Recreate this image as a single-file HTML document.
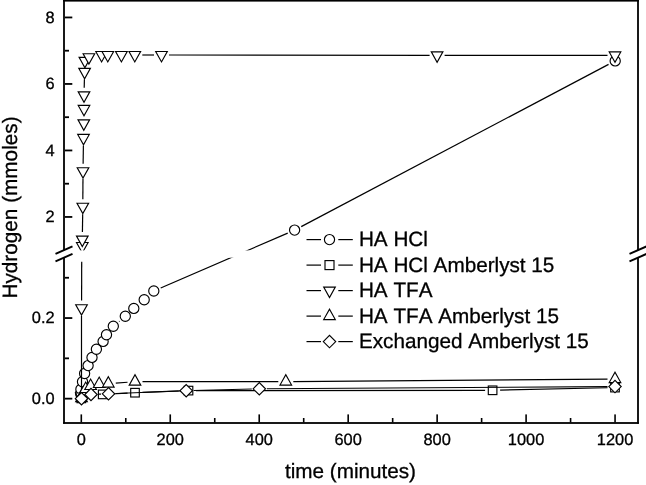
<!DOCTYPE html>
<html><head><meta charset="utf-8"><title>Hydrogen vs time</title>
<style>
html,body{margin:0;padding:0;background:#fff;}
body{width:646px;height:485px;overflow:hidden;}
svg{display:block;font-family:"Liberation Sans",Arial,Helvetica,sans-serif;fill:#000;stroke:#000;stroke-width:0;font-kerning:none;text-rendering:geometricPrecision;}
text{stroke:#000;stroke-width:0.3px;}
</style></head><body>
<svg width="646" height="485" viewBox="0 0 646 485">
<rect x="0" y="0" width="646" height="485" fill="#fff"/>
<g>
<line x1="119.06" y1="321.50" x2="119.54" y2="321.10" stroke="#000" stroke-width="1.2" />
<line x1="160.68" y1="288.02" x2="287.72" y2="233.08" stroke="#000" stroke-width="1.2" />
<line x1="301.23" y1="226.60" x2="608.57" y2="64.40" stroke="#000" stroke-width="1.2" />
<circle cx="80.60" cy="393.50" r="5.1" fill="#fff" stroke="#000" stroke-width="1.15"/>
<circle cx="80.90" cy="389.20" r="5.1" fill="#fff" stroke="#000" stroke-width="1.15"/>
<circle cx="82.50" cy="381.70" r="5.1" fill="#fff" stroke="#000" stroke-width="1.15"/>
<circle cx="84.60" cy="373.50" r="5.1" fill="#fff" stroke="#000" stroke-width="1.15"/>
<circle cx="88.10" cy="365.60" r="5.1" fill="#fff" stroke="#000" stroke-width="1.15"/>
<circle cx="92.00" cy="357.40" r="5.1" fill="#fff" stroke="#000" stroke-width="1.15"/>
<circle cx="96.40" cy="349.30" r="5.1" fill="#fff" stroke="#000" stroke-width="1.15"/>
<circle cx="103.10" cy="341.40" r="5.1" fill="#fff" stroke="#000" stroke-width="1.15"/>
<circle cx="106.50" cy="334.70" r="5.1" fill="#fff" stroke="#000" stroke-width="1.15"/>
<circle cx="113.30" cy="326.30" r="5.1" fill="#fff" stroke="#000" stroke-width="1.15"/>
<circle cx="125.30" cy="316.30" r="5.1" fill="#fff" stroke="#000" stroke-width="1.15"/>
<circle cx="133.80" cy="308.40" r="5.1" fill="#fff" stroke="#000" stroke-width="1.15"/>
<circle cx="144.20" cy="299.80" r="5.1" fill="#fff" stroke="#000" stroke-width="1.15"/>
<circle cx="153.80" cy="291.00" r="5.1" fill="#fff" stroke="#000" stroke-width="1.15"/>
<circle cx="294.60" cy="230.10" r="5.1" fill="#fff" stroke="#000" stroke-width="1.15"/>
<circle cx="615.20" cy="60.90" r="5.1" fill="#fff" stroke="#000" stroke-width="1.15"/>
<line x1="88.67" y1="397.02" x2="95.33" y2="395.78" stroke="#000" stroke-width="1.2" />
<line x1="110.19" y1="394.01" x2="127.51" y2="393.09" stroke="#000" stroke-width="1.2" />
<line x1="142.49" y1="392.41" x2="181.01" y2="390.89" stroke="#000" stroke-width="1.2" />
<line x1="196.00" y1="390.59" x2="485.10" y2="390.31" stroke="#000" stroke-width="1.2" />
<line x1="500.10" y1="390.13" x2="607.50" y2="387.77" stroke="#000" stroke-width="1.2" />
<rect x="77.00" y="394.10" width="8.6" height="8.6" fill="#fff" stroke="#000" stroke-width="1.15"/>
<rect x="98.40" y="390.10" width="8.6" height="8.6" fill="#fff" stroke="#000" stroke-width="1.15"/>
<rect x="130.70" y="388.40" width="8.6" height="8.6" fill="#fff" stroke="#000" stroke-width="1.15"/>
<rect x="184.20" y="386.30" width="8.6" height="8.6" fill="#fff" stroke="#000" stroke-width="1.15"/>
<rect x="488.30" y="386.00" width="8.6" height="8.6" fill="#fff" stroke="#000" stroke-width="1.15"/>
<rect x="610.70" y="383.30" width="8.6" height="8.6" fill="#fff" stroke="#000" stroke-width="1.15"/>
<line x1="82.41" y1="232.10" x2="82.69" y2="214.20" stroke="#000" stroke-width="1.2" />
<line x1="82.84" y1="199.20" x2="82.96" y2="178.70" stroke="#000" stroke-width="1.2" />
<line x1="83.11" y1="163.70" x2="83.39" y2="145.40" stroke="#000" stroke-width="1.2" />
<line x1="84.19" y1="87.80" x2="84.41" y2="79.30" stroke="#000" stroke-width="1.2" />
<line x1="142.30" y1="55.00" x2="154.00" y2="55.00" stroke="#000" stroke-width="1.2" />
<line x1="169.00" y1="55.01" x2="429.60" y2="55.29" stroke="#000" stroke-width="1.2" />
<line x1="444.60" y1="55.30" x2="607.50" y2="55.40" stroke="#000" stroke-width="1.2" />
<line x1="81.70" y1="261.70" x2="81.60" y2="300.60" stroke="#000" stroke-width="1.2" />
<line x1="81.50" y1="315.80" x2="81.50" y2="390.50" stroke="#000" stroke-width="1.2" />
<path d="M75.50 393.03H87.10L81.30 403.43Z" fill="#fff" stroke="#000" stroke-width="1.15" stroke-linejoin="miter"/>
<path d="M75.70 304.73H87.30L81.50 315.13Z" fill="#fff" stroke="#000" stroke-width="1.15" stroke-linejoin="miter"/>
<path d="M76.50 242.53H88.10L82.30 252.93Z" fill="#fff" stroke="#000" stroke-width="1.15" stroke-linejoin="miter"/>
<path d="M76.50 236.13H88.10L82.30 246.53Z" fill="#fff" stroke="#000" stroke-width="1.15" stroke-linejoin="miter"/>
<path d="M77.00 203.23H88.60L82.80 213.63Z" fill="#fff" stroke="#000" stroke-width="1.15" stroke-linejoin="miter"/>
<path d="M77.20 167.73H88.80L83.00 178.13Z" fill="#fff" stroke="#000" stroke-width="1.15" stroke-linejoin="miter"/>
<path d="M77.70 134.43H89.30L83.50 144.83Z" fill="#fff" stroke="#000" stroke-width="1.15" stroke-linejoin="miter"/>
<path d="M78.00 119.83H89.60L83.80 130.23Z" fill="#fff" stroke="#000" stroke-width="1.15" stroke-linejoin="miter"/>
<path d="M78.20 105.43H89.80L84.00 115.83Z" fill="#fff" stroke="#000" stroke-width="1.15" stroke-linejoin="miter"/>
<path d="M78.20 91.83H89.80L84.00 102.23Z" fill="#fff" stroke="#000" stroke-width="1.15" stroke-linejoin="miter"/>
<path d="M78.80 68.33H90.40L84.60 78.73Z" fill="#fff" stroke="#000" stroke-width="1.15" stroke-linejoin="miter"/>
<path d="M79.10 57.33H90.70L84.90 67.73Z" fill="#fff" stroke="#000" stroke-width="1.15" stroke-linejoin="miter"/>
<path d="M83.10 53.73H94.70L88.90 64.13Z" fill="#fff" stroke="#000" stroke-width="1.15" stroke-linejoin="miter"/>
<path d="M95.80 51.53H107.40L101.60 61.93Z" fill="#fff" stroke="#000" stroke-width="1.15" stroke-linejoin="miter"/>
<path d="M102.00 51.53H113.60L107.80 61.93Z" fill="#fff" stroke="#000" stroke-width="1.15" stroke-linejoin="miter"/>
<path d="M115.60 51.53H127.20L121.40 61.93Z" fill="#fff" stroke="#000" stroke-width="1.15" stroke-linejoin="miter"/>
<path d="M129.00 51.53H140.60L134.80 61.93Z" fill="#fff" stroke="#000" stroke-width="1.15" stroke-linejoin="miter"/>
<path d="M155.70 51.53H167.30L161.50 61.93Z" fill="#fff" stroke="#000" stroke-width="1.15" stroke-linejoin="miter"/>
<path d="M431.30 51.83H442.90L437.10 62.23Z" fill="#fff" stroke="#000" stroke-width="1.15" stroke-linejoin="miter"/>
<path d="M609.20 51.93H620.80L615.00 62.33Z" fill="#fff" stroke="#000" stroke-width="1.15" stroke-linejoin="miter"/>
<line x1="115.78" y1="383.07" x2="127.52" y2="382.23" stroke="#000" stroke-width="1.2" />
<line x1="142.50" y1="381.70" x2="278.30" y2="381.60" stroke="#000" stroke-width="1.2" />
<line x1="293.30" y1="381.54" x2="607.50" y2="379.16" stroke="#000" stroke-width="1.2" />
<path d="M75.70 401.67H87.30L81.50 391.27Z" fill="#fff" stroke="#000" stroke-width="1.15" stroke-linejoin="miter"/>
<path d="M77.70 396.47H89.30L83.50 386.07Z" fill="#fff" stroke="#000" stroke-width="1.15" stroke-linejoin="miter"/>
<path d="M79.90 392.47H91.50L85.70 382.07Z" fill="#fff" stroke="#000" stroke-width="1.15" stroke-linejoin="miter"/>
<path d="M84.80 389.47H96.40L90.60 379.07Z" fill="#fff" stroke="#000" stroke-width="1.15" stroke-linejoin="miter"/>
<path d="M93.40 387.47H105.00L99.20 377.07Z" fill="#fff" stroke="#000" stroke-width="1.15" stroke-linejoin="miter"/>
<path d="M102.50 387.07H114.10L108.30 376.67Z" fill="#fff" stroke="#000" stroke-width="1.15" stroke-linejoin="miter"/>
<path d="M129.20 385.17H140.80L135.00 374.77Z" fill="#fff" stroke="#000" stroke-width="1.15" stroke-linejoin="miter"/>
<path d="M280.00 385.07H291.60L285.80 374.67Z" fill="#fff" stroke="#000" stroke-width="1.15" stroke-linejoin="miter"/>
<path d="M609.20 382.57H620.80L615.00 372.17Z" fill="#fff" stroke="#000" stroke-width="1.15" stroke-linejoin="miter"/>
<line x1="98.49" y1="394.20" x2="101.01" y2="394.10" stroke="#000" stroke-width="1.2" />
<line x1="115.99" y1="393.50" x2="178.71" y2="391.00" stroke="#000" stroke-width="1.2" />
<line x1="193.70" y1="390.51" x2="251.80" y2="388.99" stroke="#000" stroke-width="1.2" />
<line x1="266.80" y1="388.75" x2="607.50" y2="386.65" stroke="#000" stroke-width="1.2" />
<path d="M75.30 398.70L81.50 392.50L87.70 398.70L81.50 404.90Z" fill="#fff" stroke="#000" stroke-width="1.15" stroke-linejoin="miter"/>
<path d="M84.80 394.50L91.00 388.30L97.20 394.50L91.00 400.70Z" fill="#fff" stroke="#000" stroke-width="1.15" stroke-linejoin="miter"/>
<path d="M102.30 393.80L108.50 387.60L114.70 393.80L108.50 400.00Z" fill="#fff" stroke="#000" stroke-width="1.15" stroke-linejoin="miter"/>
<path d="M180.00 390.70L186.20 384.50L192.40 390.70L186.20 396.90Z" fill="#fff" stroke="#000" stroke-width="1.15" stroke-linejoin="miter"/>
<path d="M253.10 388.80L259.30 382.60L265.50 388.80L259.30 395.00Z" fill="#fff" stroke="#000" stroke-width="1.15" stroke-linejoin="miter"/>
<path d="M608.80 386.60L615.00 380.40L621.20 386.60L615.00 392.80Z" fill="#fff" stroke="#000" stroke-width="1.15" stroke-linejoin="miter"/>
</g>
<g>
<rect x="66" y="250.4" width="570" height="7.3" fill="#fff"/>
<rect x="63.1" y="-0.3" width="575.8" height="1.9" fill="#000"/>
<rect x="63.1" y="422.1" width="575.8" height="1.8" fill="#000"/>
<rect x="63.1" y="0" width="1.8" height="250.3" fill="#000"/>
<rect x="63.1" y="257.7" width="1.8" height="166" fill="#000"/>
<rect x="637.1" y="0" width="1.8" height="250.3" fill="#000"/>
<rect x="637.1" y="257.7" width="1.8" height="166" fill="#000"/>
<line x1="55.5" y1="253.85" x2="72.5" y2="246.45" stroke="#000" stroke-width="2"/>
<line x1="55.5" y1="261.35" x2="72.5" y2="253.95" stroke="#000" stroke-width="2"/>
<line x1="629.5" y1="253.85" x2="646.5" y2="246.45" stroke="#000" stroke-width="2"/>
<line x1="629.5" y1="261.35" x2="646.5" y2="253.95" stroke="#000" stroke-width="2"/>
<rect x="65" y="16.55" width="7.3" height="1.8" fill="#000"/>
<rect x="65" y="83.05" width="7.3" height="1.8" fill="#000"/>
<rect x="65" y="149.55" width="7.3" height="1.8" fill="#000"/>
<rect x="65" y="216.05" width="7.3" height="1.8" fill="#000"/>
<rect x="65" y="49.80" width="4" height="1.8" fill="#000"/>
<rect x="65" y="116.30" width="4" height="1.8" fill="#000"/>
<rect x="65" y="182.80" width="4" height="1.8" fill="#000"/>
<rect x="65" y="397.75" width="7.3" height="1.8" fill="#000"/>
<rect x="65" y="317.15" width="7.3" height="1.8" fill="#000"/>
<rect x="65" y="357.45" width="4" height="1.8" fill="#000"/>
<rect x="65" y="276.85" width="4" height="1.8" fill="#000"/>
<rect x="80.50" y="414.4" width="1.6" height="8" fill="#000"/>
<rect x="169.46" y="414.4" width="1.6" height="8" fill="#000"/>
<rect x="258.42" y="414.4" width="1.6" height="8" fill="#000"/>
<rect x="347.38" y="414.4" width="1.6" height="8" fill="#000"/>
<rect x="436.34" y="414.4" width="1.6" height="8" fill="#000"/>
<rect x="525.30" y="414.4" width="1.6" height="8" fill="#000"/>
<rect x="614.26" y="414.4" width="1.6" height="8" fill="#000"/>
<rect x="124.98" y="418" width="1.6" height="4.4" fill="#000"/>
<rect x="213.94" y="418" width="1.6" height="4.4" fill="#000"/>
<rect x="302.90" y="418" width="1.6" height="4.4" fill="#000"/>
<rect x="391.86" y="418" width="1.6" height="4.4" fill="#000"/>
<rect x="480.82" y="418" width="1.6" height="4.4" fill="#000"/>
<rect x="569.78" y="418" width="1.6" height="4.4" fill="#000"/>
<text x="54.6" y="22.60" font-size="16.4" text-anchor="end">8</text>
<text x="54.6" y="89.10" font-size="16.4" text-anchor="end">6</text>
<text x="54.6" y="155.60" font-size="16.4" text-anchor="end">4</text>
<text x="54.6" y="222.10" font-size="16.4" text-anchor="end">2</text>
<text x="54.6" y="403.80" font-size="16.4" text-anchor="end">0.0</text>
<text x="54.6" y="323.20" font-size="16.4" text-anchor="end">0.2</text>
<text x="81.30" y="445.4" font-size="16.4" text-anchor="middle">0</text>
<text x="170.26" y="445.4" font-size="16.4" text-anchor="middle">200</text>
<text x="259.22" y="445.4" font-size="16.4" text-anchor="middle">400</text>
<text x="348.18" y="445.4" font-size="16.4" text-anchor="middle">600</text>
<text x="437.14" y="445.4" font-size="16.4" text-anchor="middle">800</text>
<text x="526.10" y="445.4" font-size="16.4" text-anchor="middle">1000</text>
<text x="615.06" y="445.4" font-size="16.4" text-anchor="middle">1200</text>
<text x="350.5" y="477.6" font-size="20.7" text-anchor="middle">time (minutes)</text>
<text transform="translate(17.4,207.5) rotate(-90)" font-size="20.75" text-anchor="middle">Hydrogen (mmoles)</text>
<line x1="306.5" y1="239.6" x2="321" y2="239.6" stroke="#000" stroke-width="1.2"/>
<line x1="338.3" y1="239.6" x2="352.8" y2="239.6" stroke="#000" stroke-width="1.2"/>
<text x="358.9" y="246.20" font-size="20.7">HA HCl</text>
<line x1="306.5" y1="265.1" x2="321" y2="265.1" stroke="#000" stroke-width="1.2"/>
<line x1="338.3" y1="265.1" x2="352.8" y2="265.1" stroke="#000" stroke-width="1.2"/>
<text x="358.9" y="271.70" font-size="20.7">HA HCl Amberlyst 15</text>
<line x1="306.5" y1="290.6" x2="321" y2="290.6" stroke="#000" stroke-width="1.2"/>
<line x1="338.3" y1="290.6" x2="352.8" y2="290.6" stroke="#000" stroke-width="1.2"/>
<text x="358.9" y="297.20" font-size="20.7">HA TFA</text>
<line x1="306.5" y1="316.1" x2="321" y2="316.1" stroke="#000" stroke-width="1.2"/>
<line x1="338.3" y1="316.1" x2="352.8" y2="316.1" stroke="#000" stroke-width="1.2"/>
<text x="358.9" y="322.70" font-size="20.7">HA TFA Amberlyst 15</text>
<line x1="306.5" y1="341.6" x2="321" y2="341.6" stroke="#000" stroke-width="1.2"/>
<line x1="338.3" y1="341.6" x2="352.8" y2="341.6" stroke="#000" stroke-width="1.2"/>
<text x="358.9" y="348.20" font-size="20.7">Exchanged Amberlyst 15</text>
<circle cx="329.50" cy="239.60" r="5.1" fill="#fff" stroke="#000" stroke-width="1.15"/>
<rect x="325.00" y="260.60" width="9.0" height="9.0" fill="#fff" stroke="#000" stroke-width="1.15"/>
<path d="M323.70 287.13H335.30L329.50 297.53Z" fill="#fff" stroke="#000" stroke-width="1.15" stroke-linejoin="miter"/>
<path d="M323.70 319.57H335.30L329.50 309.17Z" fill="#fff" stroke="#000" stroke-width="1.15" stroke-linejoin="miter"/>
<path d="M323.30 341.60L329.50 335.40L335.70 341.60L329.50 347.80Z" fill="#fff" stroke="#000" stroke-width="1.15" stroke-linejoin="miter"/>
</g>
</svg>
</body></html>
